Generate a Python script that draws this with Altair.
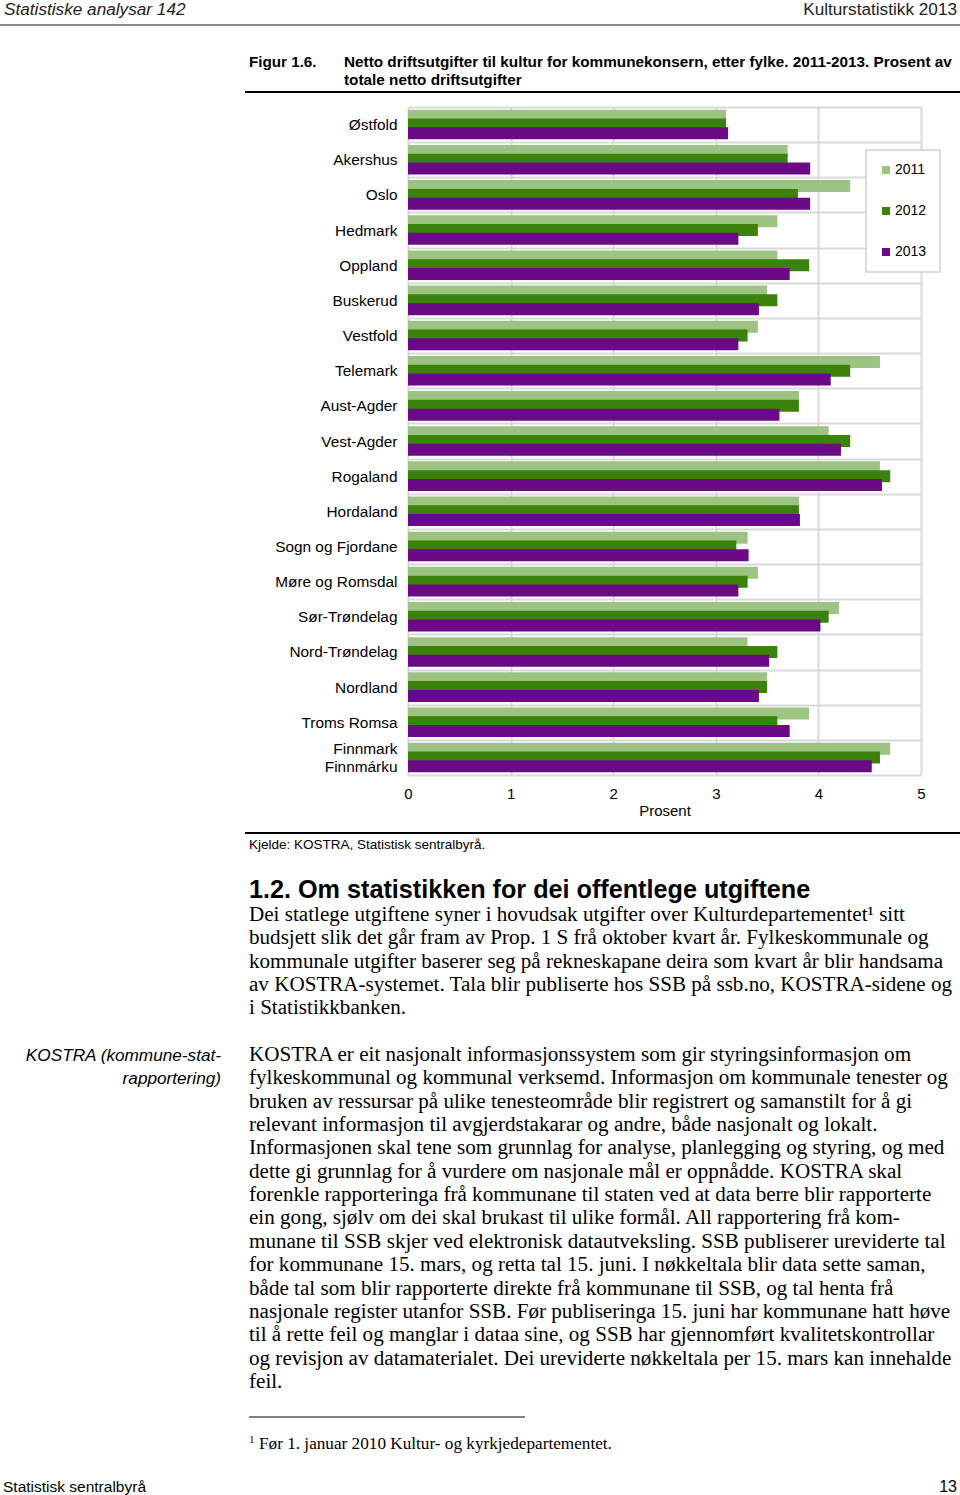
import altair as alt
import pandas as pd

# ---------------- data ----------------
CATEGORIES = ["Østfold", "Akershus", "Oslo", "Hedmark", "Oppland", "Buskerud", "Vestfold",
              "Telemark", "Aust-Agder", "Vest-Agder", "Rogaland", "Hordaland",
              "Sogn og Fjordane", "Møre og Romsdal", "Sør-Trøndelag", "Nord-Trøndelag",
              "Nordland", "Troms Romsa", "Finnmark Finnmárku"]
YEARS = ["2011", "2012", "2013"]
V2011 = [3.10, 3.70, 4.31, 3.60, 3.60, 3.50, 3.41, 4.60, 3.81, 4.10, 4.60, 3.81, 3.31, 3.41, 4.20, 3.31, 3.50, 3.91, 4.70]
V2012 = [3.10, 3.70, 3.80, 3.41, 3.91, 3.60, 3.31, 4.31, 3.81, 4.31, 4.70, 3.81, 3.20, 3.31, 4.10, 3.60, 3.50, 3.60, 4.60]
V2013 = [3.12, 3.92, 3.92, 3.22, 3.72, 3.42, 3.22, 4.12, 3.62, 4.22, 4.62, 3.82, 3.32, 3.22, 4.02, 3.52, 3.42, 3.72, 4.52]
X_TICKS = [0, 1, 2, 3, 4, 5]
X_TITLE = "Prosent"

HEADER_LEFT = "Statistiske analysar 142"
HEADER_RIGHT = "Kulturstatistikk 2013"
FIG_LABEL = "Figur 1.6."
FIG_TITLE = ["Netto driftsutgifter til kultur for kommunekonsern, etter fylke. 2011-2013. Prosent av",
             "totale netto driftsutgifter"]
SOURCE = "Kjelde: KOSTRA, Statistisk sentralbyrå."
SECTION = "1.2.  Om statistikken for dei offentlege utgiftene"
INTRO = [
    "Dei statlege utgiftene syner i hovudsak utgifter over Kulturdepartementet¹ sitt",
    "budsjett slik det går fram av Prop. 1 S frå oktober kvart år. Fylkeskommunale og",
    "kommunale utgifter baserer seg på rekneskapane deira som kvart år blir handsama",
    "av KOSTRA-systemet. Tala blir publiserte hos SSB på ssb.no, KOSTRA-sidene og",
    "i Statistikkbanken.",
]
SIDEBAR = ["KOSTRA (kommune-stat-", "rapportering)"]
KOSTRA = [
    "KOSTRA er eit nasjonalt informasjonssystem som gir styringsinformasjon om",
    "fylkeskommunal og kommunal verksemd. Informasjon om kommunale tenester og",
    "bruken av ressursar på ulike tenesteområde blir registrert og samanstilt for å gi",
    "relevant informasjon til avgjerdstakarar og andre, både nasjonalt og lokalt.",
    "Informasjonen skal tene som grunnlag for analyse, planlegging og styring, og med",
    "dette gi grunnlag for å vurdere om nasjonale mål er oppnådde. KOSTRA skal",
    "forenkle rapporteringa frå kommunane til staten ved at data berre blir rapporterte",
    "ein gong, sjølv om dei skal brukast til ulike formål. All rapportering frå kom-",
    "munane til SSB skjer ved elektronisk datautveksling. SSB publiserer ureviderte tal",
    "for kommunane 15. mars, og retta tal 15. juni. I nøkkeltala blir data sette saman,",
    "både tal som blir rapporterte direkte frå kommunane til SSB, og tal henta frå",
    "nasjonale register utanfor SSB. Før publiseringa 15. juni har kommunane hatt høve",
    "til å rette feil og manglar i dataa sine, og SSB har gjennomført kvalitetskontrollar",
    "og revisjon av datamaterialet. Dei ureviderte nøkkeltala per 15. mars kan innehalde",
    "feil.",
]
FOOTNOTE_MARK = "1"
FOOTNOTE = "Før 1. januar 2010 Kultur- og kyrkjedepartementet."
FOOTER_LEFT = "Statistisk sentralbyrå"
FOOTER_RIGHT = "13"

rows = []
for yr, vals in zip(YEARS, [V2011, V2012, V2013]):
    for c, v in zip(CATEGORIES, vals):
        rows.append({"fylke": c, "year": yr, "value": v})
df = pd.DataFrame(rows)

# ---------------- layout / style ----------------
OX, OY = 408, 107          # plot origin on the page
W, H = 513, 668            # plot area
PAGE_W, PAGE_H = 960, 1495
SANS = "Liberation Sans"
SERIF = "Liberation Serif"
GRID = "#d9d9d9"
COLORS = ["#9dc383", "#3a8209", "#6a0a86"]
BODY = 21.1
LH = 23.35

bars = alt.Chart(df).mark_bar(height=12).encode(
    x=alt.X("value:Q",
            scale=alt.Scale(domain=[0, 5], nice=False, zero=True),
            axis=alt.Axis(values=X_TICKS, title=X_TITLE, grid=True, gridColor=GRID, gridWidth=2,
                          domain=False, ticks=False, labelFlush=False,
                          labelFont=SANS, labelFontSize=15, labelColor="#000", labelPadding=11,
                          titleFont=SANS, titleFontSize=15, titleFontWeight="normal",
                          titleColor="#000", titlePadding=2)),
    y=alt.Y("fylke:N", sort=CATEGORIES,
            scale=alt.Scale(paddingInner=0, paddingOuter=0),
            axis=alt.Axis(title=None, grid=True, tickBand="extent", gridColor=GRID, gridWidth=2,
                          domain=False, ticks=False, labelFont=SANS, labelFontSize=15.4,
                          labelColor="#000", labelPadding=11, labelLineHeight=18,
                          labelOffset=alt.condition("datum.value == 'Finnmark Finnmárku'",
                                                    alt.value(-9), alt.value(0)),
                          labelExpr="datum.value == 'Finnmark Finnmárku' ? ['Finnmark\u00a0', 'Finnmárku'] : datum.label")),
    yOffset=alt.YOffset("year:N", sort=YEARS, scale=alt.Scale(type="point", padding=1.4)),
    color=alt.Color("year:N",
                    scale=alt.Scale(domain=YEARS, range=COLORS),
                    legend=alt.Legend(title=None, orient="none", legendX=866 - OX, legendY=150 - OY,
                                      direction="vertical", symbolType="square", symbolSize=64,
                                      symbolStrokeWidth=0, labelFont=SANS, labelFontSize=14,
                                      labelColor="#000", rowPadding=27, padding=13,
                                      labelOffset=2, strokeColor="#d0d0d0", fillColor="white")),
)


def txt(text, x, y, size, font, weight="normal", style="normal", align="left",
        color="#000", line_height=None):
    kw = dict(align=align, baseline="alphabetic", fontSize=size, font=font,
              fontWeight=weight, fontStyle=style, color=color)
    if line_height is not None:
        kw["lineHeight"] = line_height
    return alt.Chart(alt.Data(values=[{}])).mark_text(**kw).encode(
        x=alt.value(x - OX), y=alt.value(y - OY), text=alt.value(text))


def rule(x1, x2, y, width, color):
    return alt.Chart(alt.Data(values=[{}])).mark_rule(strokeWidth=width, color=color).encode(
        x=alt.value(x1 - OX), x2=alt.value(x2 - OX), y=alt.value(y - OY))


layers = [
    bars,
    txt(HEADER_LEFT, 4, 15, 17.2, SANS, style="italic", color="#222"),
    txt(HEADER_RIGHT, 957, 15, 17.2, SANS, align="right", color="#222"),
    rule(0, PAGE_W, 25, 1.5, "#666"),
    txt(FIG_LABEL, 249, 67, 15.2, SANS, weight="bold"),
    txt(FIG_TITLE, 344, 67, 15.3, SANS, weight="bold", line_height=18),
    rule(245, PAGE_W, 92, 2, "#000"),
    rule(245, PAGE_W, 833, 2, "#000"),
    txt(SOURCE, 249, 849, 13.5, SANS),
    txt(SECTION, 249, 898, 25.2, SANS, weight="bold"),
    txt(INTRO, 249, 921, BODY, SERIF, line_height=LH),
    txt(SIDEBAR, 221, 1061, 17.2, SANS, style="italic", align="right", line_height=LH),
    txt(KOSTRA, 249, 1061, BODY, SERIF, line_height=LH),
    rule(249, 525, 1417, 1, "#000"),
    txt(FOOTNOTE_MARK, 249, 1443, 11, SERIF),
    txt(FOOTNOTE, 259, 1449, 17.2, SERIF),
    txt(FOOTER_LEFT, 3, 1492, 15.5, SANS),
    txt(FOOTER_RIGHT, 957, 1492, 16, SANS, align="right"),
]

chart = alt.layer(*layers).properties(
    width=W, height=H,
    autosize=alt.AutoSizeParams(type="none"),
    padding={"left": OX, "top": OY, "right": PAGE_W - OX - W, "bottom": PAGE_H - OY - H},
    background="white",
).configure_view(strokeWidth=0).configure_legend(strokeWidth=1.5)

chart.save("out.html", embed_options={"renderer": "svg", "actions": False})
